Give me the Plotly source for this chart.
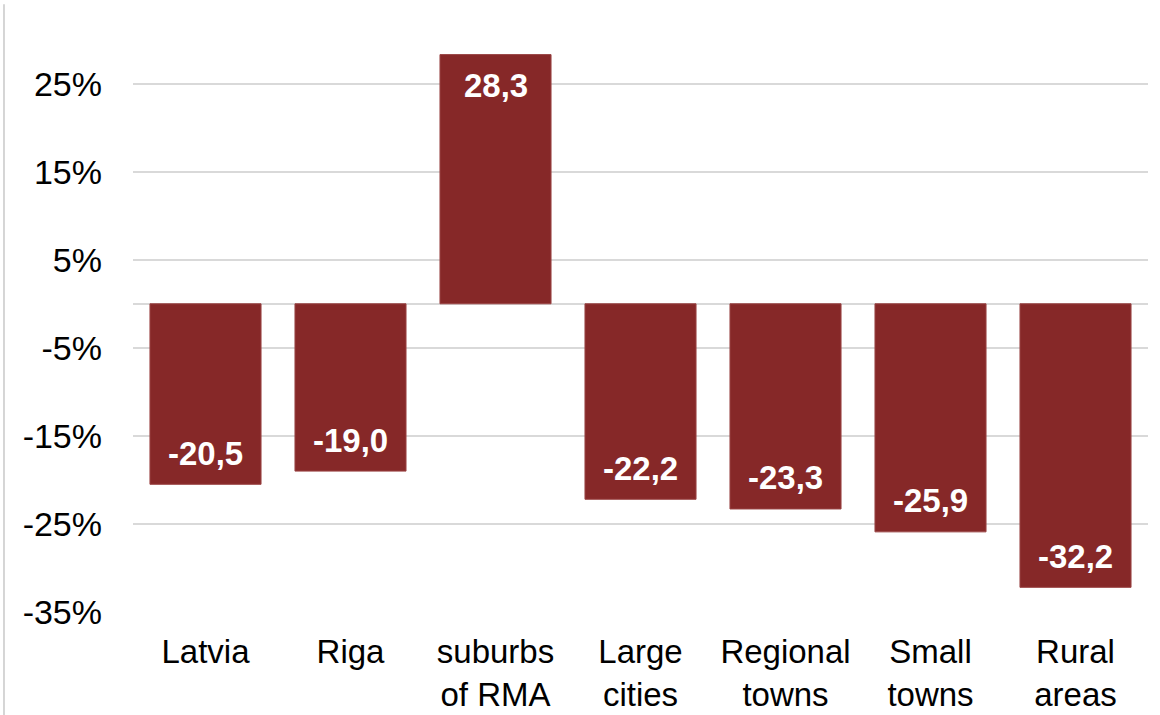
import plotly.graph_objects as go

# Population change by settlement type, %
categories = ["Latvia", "Riga", "suburbs<br>of RMA", "Large<br>cities",
              "Regional<br>towns", "Small<br>towns", "Rural<br>areas"]
values = [-20.5, -19.0, 28.3, -22.2, -23.3, -25.9, -32.2]
tick_vals = [-35, -25, -15, -5, 5, 15, 25]
tick_text = ["-35%", "-25%", "-15%", "-5%", "5%", "15%", "25%"]

BAR = "#862828"
GRID = "#d9d9d9"
FONT = "Liberation Sans, Arial, sans-serif"

fig = go.Figure(go.Bar(
    x=categories,
    y=values,
    marker=dict(color=BAR, line=dict(color="#9a4444", width=1)),
    width=0.766,
    hoverinfo="skip",
))

# value labels inside the end of each bar
for cat, v in zip(categories, values):
    fig.add_annotation(
        x=cat, y=v,
        text="<b>" + f"{v:.1f}".replace(".", ",") + "</b>",
        showarrow=False,
        yanchor="middle",
        yshift=-31 if v > 0 else 31,
        font=dict(family=FONT, size=33, color="white"),
    )

# thin frame line on the left edge
fig.add_shape(type="line", xref="paper", yref="paper",
              x0=-0.1271, x1=-0.1271, y0=-0.2, y1=1.03,
              line=dict(color="#c8c8c8", width=1.5))

fig.update_layout(
    width=1160, height=715,
    margin=dict(l=133, r=12, t=22, b=103, autoexpand=False),
    paper_bgcolor="white",
    plot_bgcolor="white",
    showlegend=False,
    font=dict(family=FONT, size=34, color="black"),
    xaxis=dict(
        showgrid=False, showline=False, ticks="",
        tickfont=dict(size=33),
        ticklabelstandoff=17,
        automargin=False,
    ),
    yaxis=dict(
        range=[-35, 32],
        tickvals=tick_vals, ticktext=tick_text,
        showgrid=True, gridcolor=GRID, gridwidth=1.5,
        zeroline=True, zerolinecolor=GRID, zerolinewidth=1.5,
        showline=False, ticks="",
        tickfont=dict(size=34),
        ticklabelstandoff=30,
        automargin=False,
    ),
)

fig.write_html("out.html")
